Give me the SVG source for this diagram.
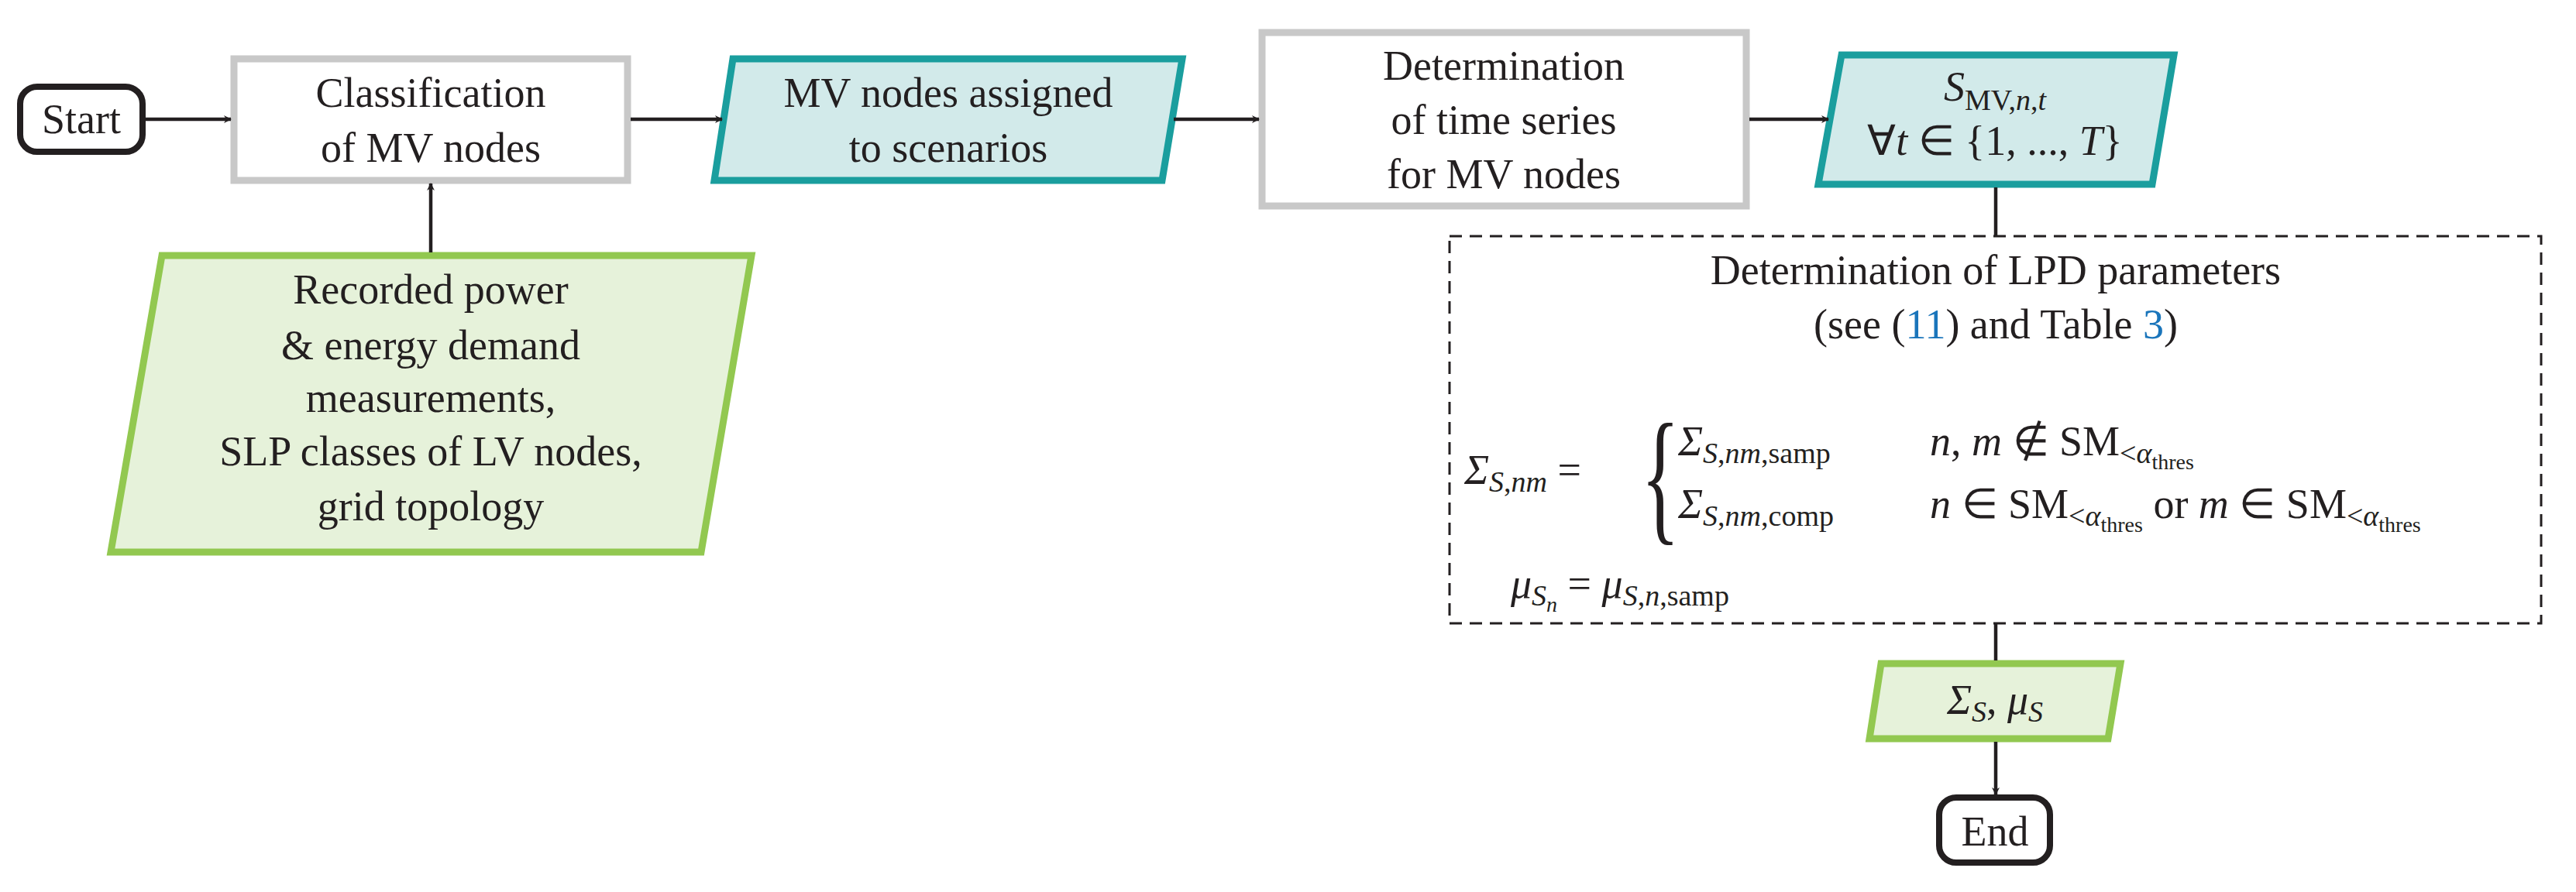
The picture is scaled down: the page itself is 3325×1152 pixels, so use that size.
<svg xmlns="http://www.w3.org/2000/svg" width="3325" height="1152" viewBox="0 0 3325 1152">
<defs>
<marker id="ah" markerWidth="10" markerHeight="10" refX="9" refY="5" orient="auto" markerUnits="userSpaceOnUse" viewBox="0 0 10 10">
<path d="M0,0 L10,5 L0,10 L3,5 Z" fill="#231f20"/>
</marker>
</defs>
<style>
text{font-family:"Liberation Serif",serif;font-size:54px;fill:#231f20;text-anchor:middle}
.m{font-size:54px}
.i{font-style:italic}
.s{font-size:38px}
.l{text-anchor:start}
.gray{fill:#fff;stroke:#c8c8c8;stroke-width:9}
.teal{fill:#d2eaea;stroke:#1a9e9e;stroke-width:9}
.green{fill:#e6f2da;stroke:#92c850;stroke-width:9}
.term{fill:#fff;stroke:#231f20;stroke-width:8}
.c{stroke:#231f20;stroke-width:4.5;fill:none}
.link{fill:#1a75bb}
</style>
<g id="start"><rect class="term" x="26" y="112" width="158" height="84" rx="22"/><text x="105" y="172">Start</text></g>
<g id="classification"><rect class="gray" x="302" y="76" width="508" height="157"/><text x="556" y="138">Classification</text><text x="556" y="209">of MV nodes</text></g>
<g id="mvnodes"><polygon class="teal" points="946,76 1526,76 1500,233 922,233"/><text x="1224" y="138">MV nodes assigned</text><text x="1224" y="209">to scenarios</text></g>
<g id="recorded"><polygon class="green" points="209,330 970,330 905,713 143,713"/>
<text x="556" y="392">Recorded power</text><text x="556" y="464">&amp; energy demand</text><text x="556" y="532">measurements,</text><text x="556" y="601">SLP classes of LV nodes,</text><text x="556" y="672">grid topology</text></g>
<g id="timeseries"><rect class="gray" x="1629" y="42" width="625" height="224"/><text x="1941" y="103">Determination</text><text x="1941" y="173">of time series</text><text x="1941" y="243">for MV nodes</text></g>
<g id="smv"><polygon class="teal" points="2377,71 2806,71 2778,238 2347,238"/>
<text x="2575" y="130"><tspan class="i">S</tspan><tspan class="s" dy="12">MV,</tspan><tspan class="s i">n</tspan><tspan class="s">,</tspan><tspan class="s i">t</tspan></text>
<text x="2575" y="200">∀<tspan class="i">t</tspan> ∈ {1, ..., <tspan class="i">T</tspan>}</text></g>
<g id="lpd"><rect x="1871" y="305" width="1409" height="500" fill="none" stroke="#231f20" stroke-width="3" stroke-dasharray="16,10"/>
<text x="2576" y="367">Determination of LPD parameters</text>
<text x="2576" y="437">(see (<tspan class="link">11</tspan>) and Table <tspan class="link">3</tspan>)</text>
<text class="l" x="1890" y="625"><tspan class="i">Σ</tspan><tspan class="s i" dy="10">S</tspan><tspan class="s">,</tspan><tspan class="s i">nm</tspan><tspan dy="-10"> =</tspan></text>
<text class="l" x="2118" y="678" style="font-size:190px;font-weight:100" transform="translate(2118 0) scale(0.55 1) translate(-2118 0)">{</text>
<text class="l" x="2166" y="588"><tspan class="i">Σ</tspan><tspan class="s i" dy="10">S</tspan><tspan class="s">,</tspan><tspan class="s i">nm</tspan><tspan class="s">,samp</tspan></text>
<text class="l" x="2491" y="588"><tspan class="i">n</tspan>, <tspan class="i">m</tspan> ∉ SM<tspan class="s" dy="10">&lt;</tspan><tspan class="s i">α</tspan><tspan style="font-size:28px" dy="8">thres</tspan></text>
<text class="l" x="2166" y="669"><tspan class="i">Σ</tspan><tspan class="s i" dy="10">S</tspan><tspan class="s">,</tspan><tspan class="s i">nm</tspan><tspan class="s">,comp</tspan></text>
<text class="l" x="2491" y="669"><tspan class="i">n</tspan> ∈ SM<tspan class="s" dy="10">&lt;</tspan><tspan class="s i">α</tspan><tspan style="font-size:28px" dy="8">thres</tspan><tspan dy="-18"> or </tspan><tspan class="i">m</tspan> ∈ SM<tspan class="s" dy="10">&lt;</tspan><tspan class="s i">α</tspan><tspan style="font-size:28px" dy="8">thres</tspan></text>
<text class="l" x="1950" y="772"><tspan class="i">μ</tspan><tspan class="s i" dy="10">S</tspan><tspan style="font-size:28px" class="i" dy="8">n</tspan><tspan dy="-18"> = </tspan><tspan class="i">μ</tspan><tspan class="s i" dy="10">S</tspan><tspan class="s">,</tspan><tspan class="s i">n</tspan><tspan class="s">,samp</tspan></text></g>
<g id="sigma"><polygon class="green" points="2428,857 2737,857 2721,954 2413,954"/>
<text x="2575" y="922"><tspan class="i">Σ</tspan><tspan class="s i" dy="10">S</tspan><tspan dy="-10">, </tspan><tspan class="i">μ</tspan><tspan class="s i" dy="10">S</tspan></text></g>
<g id="end"><rect class="term" x="2503" y="1030" width="143" height="84" rx="22"/><text x="2575" y="1092">End</text></g>
<g id="connectors">
<line class="c" x1="188" y1="154" x2="298" y2="154" marker-end="url(#ah)"/>
<line class="c" x1="814" y1="154" x2="932" y2="154" marker-end="url(#ah)"/>
<line class="c" x1="1515" y1="154" x2="1625" y2="154" marker-end="url(#ah)"/>
<line class="c" x1="2258" y1="154" x2="2360" y2="154" marker-end="url(#ah)"/>
<line class="c" x1="556" y1="326" x2="556" y2="237" marker-end="url(#ah)"/>
<line class="c" x1="2576" y1="242" x2="2576" y2="305"/>
<line class="c" x1="2576" y1="805" x2="2576" y2="853"/>
<line class="c" x1="2576" y1="958" x2="2576" y2="1026" marker-end="url(#ah)"/>
</g>
</svg>
